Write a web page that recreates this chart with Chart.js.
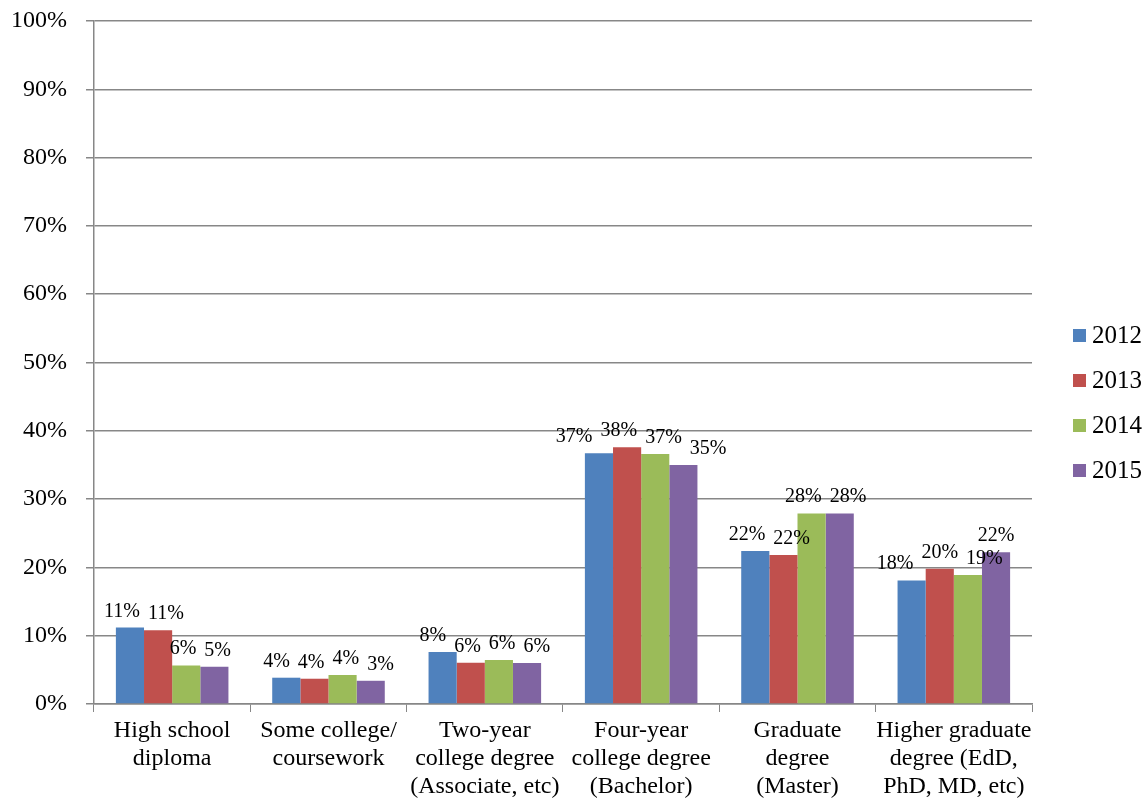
<!DOCTYPE html>
<html>
<head>
<meta charset="utf-8">
<script src="https://cdn.jsdelivr.net/npm/chart.js@4"></script>
<style>
  html, body { margin: 0; padding: 0; background: #fff; }
  #wrap { width: 1148px; height: 798px; }
</style>
</head>
<body>
<div id="wrap"><canvas id="chart" width="1148" height="798"></canvas></div>
<script>
// categories (multi-line labels as in the original)
const categories = [
    ["High school", "diploma"],
    ["Some college/", "coursework"],
    ["Two-year", "college degree", "(Associate, etc)"],
    ["Four-year", "college degree", "(Bachelor)"],
    ["Graduate", "degree", "(Master)"],
    ["Higher graduate", "degree (EdD,", "PhD, MD, etc)"]
];

// percentages
const years = ["2012", "2013", "2014", "2015"];
const values2012 = [11.2, 3.85, 7.6, 36.7, 22.4, 18.1];
const values2013 = [10.8, 3.7, 6.05, 37.6, 21.8, 19.8];
const values2014 = [5.65, 4.25, 6.45, 36.6, 27.9, 18.9];
const values2015 = [5.45, 3.4, 6.0, 35.0, 27.9, 22.2];
const yTicks = [0, 10, 20, 30, 40, 50, 60, 70, 80, 90, 100];

const colors = ["#4F81BD", "#C0504D", "#9BBB59", "#8064A2"];
const serif = "'Liberation Serif', 'Times New Roman', serif";
const gridColor = "#878787";

const allValues = [values2012, values2013, values2014, values2015];
const datasets = years.map((y, i) => ({
    label: y,
    data: allValues[i],
    backgroundColor: colors[i],
    borderWidth: 0,
    categoryPercentage: 0.72,
    barPercentage: 1.0
}));

// value labels above each bar; labels that collide inside a group are pushed apart
const barLabels = {
    id: 'barLabels',
    afterDatasetsDraw(chart) {
        const ctx = chart.ctx;
        const gap = 8;
        ctx.save();
        ctx.font = "20px " + serif;
        ctx.fillStyle = "#000";
        ctx.textAlign = "center";
        ctx.textBaseline = "alphabetic";
        const n = chart.data.datasets.length;
        chart.data.labels.forEach((_, j) => {
            const items = [];
            for (let i = 0; i < n; i++) {
                const bar = chart.getDatasetMeta(i).data[j];
                const text = Math.round(chart.data.datasets[i].data[j]) + "%";
                items.push({ text, x: bar.x, y: bar.y - 11, w: ctx.measureText(text).width });
            }
            for (let it = 0; it < 60; it++) {
                for (let a = 0; a < n; a++) {
                    for (let b = a + 1; b < n; b++) {
                        const A = items[a], B = items[b];
                        if (Math.abs(A.y - B.y) >= 16) continue;
                        const need = (A.w + B.w) / 2 + gap - (B.x - A.x);
                        if (need > 0.01) { A.x -= need / 2; B.x += need / 2; }
                    }
                }
            }
            items.forEach(o => ctx.fillText(o.text, o.x, o.y));
        });
        ctx.restore();
    }
};

// legend to the right, Excel style
const sideLegend = {
    id: 'sideLegend',
    afterDraw(chart) {
        const ctx = chart.ctx;
        const area = chart.chartArea;
        const rowH = 45;
        const x = area.right + 41;
        const y0 = chart.height / 2 - 1.5 * rowH + 4;
        ctx.save();
        ctx.font = "25px " + serif;
        ctx.textBaseline = "middle";
        ctx.textAlign = "left";
        chart.data.datasets.forEach((ds, i) => {
            const cy = y0 + i * rowH;
            ctx.fillStyle = ds.backgroundColor;
            ctx.fillRect(x, cy - 6.5, 13, 13);
            ctx.fillStyle = "#000";
            ctx.fillText(ds.label, x + 19, cy + 1);
        });
        ctx.restore();
    }
};

const ctx = document.getElementById("chart").getContext("2d");
new Chart(ctx, {
    type: 'bar',
    data: {
        labels: categories,
        datasets: datasets
    },
    options: {
        responsive: false,
        animation: false,
        layout: { padding: { left: -8, top: 21, right: 116, bottom: -8 } },
        plugins: {
            legend: { display: false },
            tooltip: { enabled: false }
        },
        scales: {
            x: {
                grid: {
                    display: true,
                    offset: true,
                    drawOnChartArea: false,
                    color: gridColor,
                    tickLength: 8
                },
                border: { color: gridColor, width: 1.5 },
                ticks: {
                    color: "#000",
                    padding: 5,
                    maxRotation: 0,
                    autoSkip: false,
                    font: { family: serif, size: 24, lineHeight: 28 / 24 }
                }
            },
            y: {
                min: 0,
                max: 100,
                afterBuildTicks: axis => { axis.ticks = yTicks.map(v => ({ value: v })); },
                afterFit: axis => { axis.paddingTop = 0; axis.paddingBottom = 0; },
                grid: { color: gridColor, lineWidth: 1.5, tickLength: 8 },
                border: { color: gridColor, width: 1.5 },
                ticks: {
                    color: "#000",
                    padding: 19,
                    font: { family: serif, size: 24 },
                    callback: v => v + "%"
                }
            }
        }
    },
    plugins: [barLabels, sideLegend]
});
</script>
</body>
</html>
